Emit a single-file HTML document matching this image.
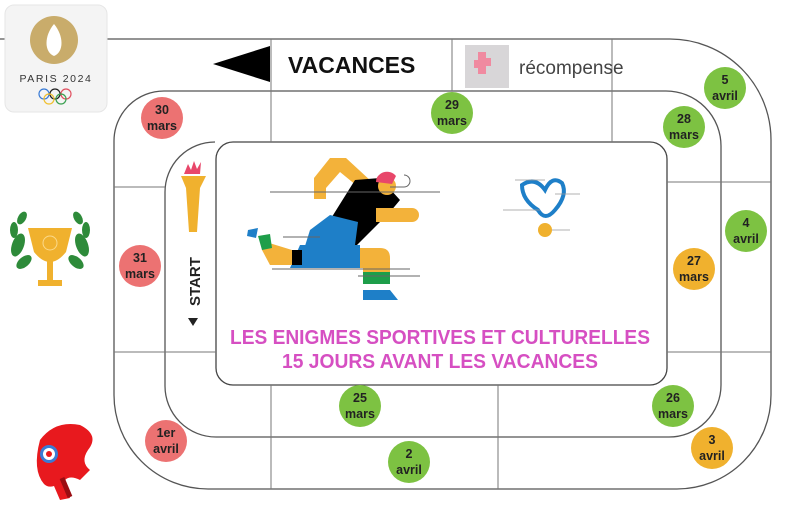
<!DOCTYPE html>
<html><head><meta charset="utf-8"><style>
html,body{margin:0;padding:0;background:#fff;}
body{width:800px;height:527px;overflow:hidden;position:relative;font-family:"Liberation Sans",sans-serif;}
</style></head><body>
<svg width="800" height="527" viewBox="0 0 800 527" xmlns="http://www.w3.org/2000/svg" style="position:absolute;left:0;top:0">
<g fill="none" stroke="#555" stroke-width="1.3">
<!-- outer spiral line -->
<path d="M0 39 H670 A101 101 0 0 1 771 140 V395 A94 94 0 0 1 677 489 H208 A94 94 0 0 1 114 395 V141 A50 50 0 0 1 164 91 H666 A55 55 0 0 1 721 146 V385 A52 52 0 0 1 669 437 H216 A51 51 0 0 1 165 386 V192 A50 50 0 0 1 215 142"/>
<!-- inner card -->
<rect x="216" y="142" width="451" height="243" rx="17" stroke="#444"/>
<!-- separators -->
<path d="M271 39V142 M452 39V91 M612 39V142 M114 187H165 M114 352H216 M667 182H771 M667 352H771 M271 385V489 M498 385V489" stroke="#777" stroke-width="1"/>
</g>
<!-- VACANCES header -->
<polygon points="213,64 270,46 270,82" fill="#000"/>
<text x="288" y="73" font-family="Liberation Sans" font-weight="bold" font-size="23" fill="#111">VACANCES</text>
<rect x="465" y="45" width="44" height="43" fill="#d8d6d8"/>
<path d="M478 52h8v6h5v8h-5v8h-8v-6h-4v-8h4z" fill="#f08aa0"/>
<text x="519" y="74" font-family="Liberation Sans" font-size="19" fill="#444">récompense</text>
<!-- date circles -->
<g font-family="Liberation Sans" font-weight="bold" font-size="12.5" fill="#222" text-anchor="middle">
<circle cx="162" cy="118" r="21" fill="#ec7272"/><text x="162" y="114">30</text><text x="162" y="130">mars</text>
<circle cx="452" cy="113" r="21" fill="#7dc242"/><text x="452" y="109">29</text><text x="452" y="125">mars</text>
<circle cx="684" cy="127" r="21" fill="#7dc242"/><text x="684" y="123">28</text><text x="684" y="139">mars</text>
<circle cx="725" cy="88" r="21" fill="#7dc242"/><text x="725" y="84">5</text><text x="725" y="100">avril</text>
<circle cx="746" cy="231" r="21" fill="#7dc242"/><text x="746" y="227">4</text><text x="746" y="243">avril</text>
<circle cx="694" cy="269" r="21" fill="#f0b12e"/><text x="694" y="265">27</text><text x="694" y="281">mars</text>
<circle cx="140" cy="266" r="21" fill="#ec7272"/><text x="140" y="262">31</text><text x="140" y="278">mars</text>
<circle cx="673" cy="406" r="21" fill="#7dc242"/><text x="673" y="402">26</text><text x="673" y="418">mars</text>
<circle cx="712" cy="448" r="21" fill="#f0b12e"/><text x="712" y="444">3</text><text x="712" y="460">avril</text>
<circle cx="360" cy="406" r="21" fill="#7dc242"/><text x="360" y="402">25</text><text x="360" y="418">mars</text>
<circle cx="409" cy="462" r="21" fill="#7dc242"/><text x="409" y="458">2</text><text x="409" y="474">avril</text>
<circle cx="166" cy="441" r="21" fill="#ec7272"/><text x="166" y="437">1er</text><text x="166" y="453">avril</text>
</g>
<!-- pink title -->
<g font-family="Liberation Sans" font-weight="bold" font-size="20" fill="#d64fc2" text-anchor="middle">
<text x="440" y="344" textLength="420" lengthAdjust="spacingAndGlyphs">LES ENIGMES SPORTIVES ET CULTURELLES</text>
<text x="440" y="368" textLength="316" lengthAdjust="spacingAndGlyphs">15 JOURS AVANT LES VACANCES</text>
</g>
<!-- START -->
<text transform="translate(200,306) rotate(-90)" font-family="Liberation Sans" font-weight="bold" font-size="15" fill="#222">START</text>
<polygon points="188,318 198,318 193,326" fill="#222"/>
<!-- torch -->
<path d="M184 174 l4 -10 3 6 3 -9 3 8 4 -7 -1 12z" fill="#e8476a"/>
<path d="M181 176 H206 L200 188 L197 232 H189 L186 188z" fill="#f0b12e"/>
<!-- runner -->
<g>
<path d="M314 199 L314 178 L330 158 L346 158 L372 182 L362 190 L340 172 L326 188 L326 199z" fill="#f3b23a"/>
<path d="M355 180 L380 178 L400 200 L390 212 L340 262 L300 262 L330 220z" fill="#000"/>
<path d="M376 208 H412 a7 7 0 0 1 0 14 H376z" fill="#f3b23a"/>
<path d="M330 215 L358 222 L355 245 L358 262 L300 262 L310 230z" fill="#1e7fc8"/>
<path d="M300 245 L360 245 L360 268 H290z" fill="#1e7fc8"/>
<path d="M290 250 H302 V265 H290z" fill="#000"/>
<path d="M360 248 H380 Q390 248 390 258 V268 H360z" fill="#f3b23a"/>
<path d="M266 242 L292 250 V265 L270 265 L262 250z" fill="#f3b23a"/>
<path d="M258 236 L270 234 L272 248 L262 250z" fill="#1e9e4a"/>
<path d="M248 230 L258 228 L256 238 L247 236z" fill="#1e7fc8"/>
<path d="M363 268 H390 V284 H363z" fill="#f3b23a"/>
<path d="M363 272 H390 V284 H363z" fill="#1e9e4a"/>
<path d="M363 290 H390 L398 300 H363z" fill="#1e7fc8"/>
<circle cx="387" cy="186" r="9" fill="#f3b23a"/>
<path d="M376 182 a11 10 0 0 1 20 -6 L392 184z" fill="#e8476a"/>
<path d="M270 192 H440 M272 269 H410 M283 237 H320 M358 276 H420 M404 175 a6 6 0 0 1 0 12 H390" stroke="#666" stroke-width="1" fill="none"/>
</g>
<!-- blue shape + medal -->
<path d="M522 185 Q535 176 545 190 Q552 175 562 183 Q568 195 555 210 Q545 222 538 210 Q522 200 522 185z" fill="none" stroke="#1e7fc8" stroke-width="4"/>
<path d="M515 180 H545 M503 210 H540 M555 194 H580 M550 230 H570" stroke="#999" stroke-width="0.8"/>
<circle cx="545" cy="230" r="7" fill="#f0b12e"/>
<!-- logo card -->
<rect x="5" y="5" width="102" height="107" rx="9" fill="#f4f4f4" stroke="#e6e6e6"/>
<circle cx="54" cy="40" r="24" fill="#c9ac6b"/>
<path d="M54 24 C44 36 44 52 54 56 C64 52 64 36 54 24z" fill="#fff"/>
<text x="56" y="82" font-family="Liberation Sans" font-size="10.5" letter-spacing="1.6" fill="#333" text-anchor="middle">PARIS 2024</text>
<g fill="none" stroke-width="1.2"><circle cx="44" cy="94" r="5" stroke="#3a7bd5"/><circle cx="55" cy="94" r="5" stroke="#222"/><circle cx="66" cy="94" r="5" stroke="#e05060"/><circle cx="49" cy="99" r="5" stroke="#f0c030"/><circle cx="61" cy="99" r="5" stroke="#3aa050"/></g>
<!-- trophy with laurels -->
<g fill="#2e8b3a">
<ellipse cx="18" cy="245" rx="6" ry="12" transform="rotate(20 18 245)"/><ellipse cx="14" cy="230" rx="4" ry="8"/><ellipse cx="24" cy="262" rx="5" ry="9" transform="rotate(50 24 262)"/><ellipse cx="22" cy="218" rx="4" ry="7" transform="rotate(30 22 218)"/>
<ellipse cx="82" cy="245" rx="6" ry="12" transform="rotate(-20 82 245)"/><ellipse cx="86" cy="230" rx="4" ry="8"/><ellipse cx="76" cy="262" rx="5" ry="9" transform="rotate(-50 76 262)"/><ellipse cx="78" cy="218" rx="4" ry="7" transform="rotate(-30 78 218)"/>
</g>
<path d="M28 228 H72 L66 252 Q58 262 50 262 Q42 262 34 252z" fill="#f0b12e"/>
<rect x="47" y="260" width="6" height="20" fill="#f0b12e"/><rect x="38" y="280" width="24" height="6" fill="#f0b12e"/>
<circle cx="50" cy="243" r="7" fill="none" stroke="#fbd98a"/>
<!-- red bonnet -->
<path d="M40 440 Q55 420 80 425 Q100 435 88 450 Q80 462 90 470 L80 480 Q70 475 65 480 L70 498 L60 500 L54 486 Q48 488 44 484 Q32 470 40 440z" fill="#e8191e"/>
<path d="M62 478 L70 497" stroke="#9a0d12" stroke-width="5"/>
<circle cx="49" cy="454" r="9" fill="#3a7bd5"/><circle cx="49" cy="454" r="6" fill="#fff"/><circle cx="49" cy="454" r="3" fill="#e8191e"/>
</svg>
</body></html>
